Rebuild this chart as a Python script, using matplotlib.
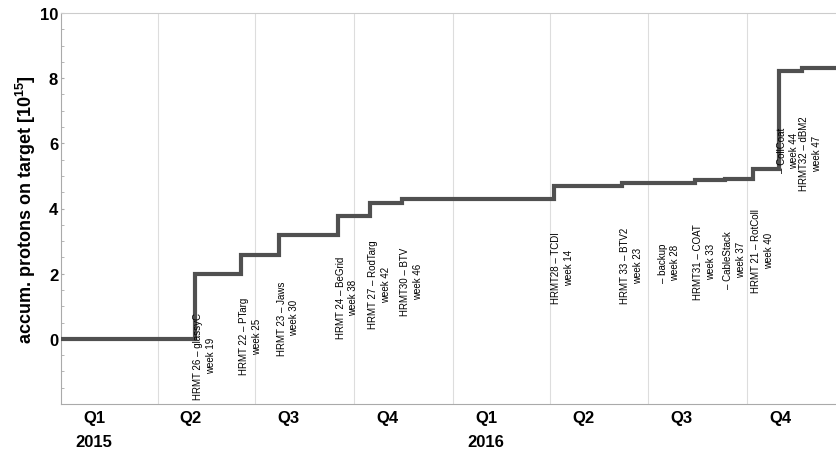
import numpy as np
import matplotlib
matplotlib.use("Agg")
import matplotlib.pyplot as plt
import matplotlib.dates as mdates
import matplotlib.transforms as mtransforms

plt.rcParams['font.family'] = ['Liberation Sans', 'DejaVu Sans']
plt.rcParams['mathtext.fontset'] = 'custom'
plt.rcParams['mathtext.rm'] = 'Liberation Sans'
plt.rcParams['mathtext.bf'] = 'Liberation Sans:bold'

# Accumulated protons on target: step dates and level after each step
step_dates = ["2015-01-01", "2015-05-06", "2015-06-18", "2015-07-23", "2015-09-16",
              "2015-10-16", "2015-11-15", "2016-04-04", "2016-06-07", "2016-08-14",
              "2016-09-11", "2016-10-07", "2016-10-31", "2016-11-21", "2016-12-31"]
pot_levels = [0.0, 2.0, 2.58, 3.18, 3.78, 4.18, 4.28, 4.68, 4.78, 4.86,
              4.90, 5.20, 8.22, 8.32, 8.32]

# Experiment annotations
exp_names = ["HRMT 26 – glassyC", "HRMT 22 – PTarg", "HRMT 23 – Jaws", "HRMT 24 – BeGrid",
             "HRMT 27 – RodTarg", "HRMT30 – BTV", "HRMT28 – TCDI", "HRMT 33 – BTV2",
             "– backup", "HRMT31 – COAT", "– CableStack", "HRMT 21 – RotColl",
             "– CollCoat", "HRMT32 – dBM2"]
exp_weeks = [19, 25, 30, 38, 42, 46, 14, 23, 28, 33, 37, 40, 44, 47]
exp_dates = ["2015-05-06", "2015-06-18", "2015-07-23", "2015-09-16", "2015-10-16",
             "2015-11-15", "2016-04-04", "2016-06-07", "2016-07-12", "2016-08-14",
             "2016-09-11", "2016-10-07", "2016-10-31", "2016-11-21"]
exp_label_y = [-0.5, 0.1, 0.66, 1.3, 1.68, 1.79, 2.2, 2.27, 2.35, 2.4, 2.45, 2.72, 5.8, 5.7]

quarter_starts = ["2015-04-01", "2015-07-01", "2015-10-01", "2016-01-01",
                  "2016-04-01", "2016-07-01", "2016-10-01"]
quarter_label_dates = ["2015-02-01", "2015-05-02", "2015-08-01", "2015-11-01",
                       "2016-02-01", "2016-05-02", "2016-08-01", "2016-11-01"]
quarter_labels = ["Q1", "Q2", "Q3", "Q4", "Q1", "Q2", "Q3", "Q4"]
year_label_dates = ["2015-02-01", "2016-02-01"]
year_labels = ["2015", "2016"]


def to_num(dates):
    return mdates.datestr2num(dates)


fig = plt.figure(figsize=(8.37, 4.52), dpi=100)
ax = fig.add_axes([61 / 837, 1 - 405 / 452, 1 - 61 / 837, (405 - 14) / 452])

x0 = to_num("2015-01-01")
x1 = to_num("2016-12-24")
ax.set_xlim(x0, x1)
ax.set_ylim(-2, 10)

for q in to_num(quarter_starts):
    ax.axvline(q, color="#dddddd", lw=0.8, zorder=0)

ax.step(to_num(step_dates), pot_levels, where="post", color="#505050", lw=3,
        solid_joinstyle="miter", zorder=3)

for name, wk, d, ly in zip(exp_names, exp_weeks, exp_dates, exp_label_y):
    ax.annotate(f"{name}\nweek {wk}", xy=(to_num(d), ly), xytext=(6.5, 0),
                textcoords="offset points", rotation=90, ha="center", va="center",
                multialignment="center", fontsize=7, linespacing=1.35,
                color="black", zorder=4)

ax.set_yticks([0, 2, 4, 6, 8, 10])
ax.set_yticks(np.arange(-2, 10.01, 0.5), minor=True)
ax.tick_params(axis="y", which="both", direction="in", length=2.5, color="#aaaaaa",
               labelsize=12, pad=2)
for lab in ax.get_yticklabels():
    lab.set_fontweight("bold")

ax.set_xticks(to_num(quarter_label_dates))
ax.set_xticklabels(quarter_labels, fontsize=12, fontweight="bold")
ax.tick_params(axis="x", length=0, pad=4)

trans = mtransforms.blended_transform_factory(ax.transData, ax.transAxes)
for d, yl in zip(to_num(year_label_dates), year_labels):
    ax.text(d, -0.095, yl, transform=trans, ha="center", va="center",
            fontsize=12, fontweight="bold")

ax.set_ylabel(r"accum. protons on target [10$^{\mathbf{15}}$]", fontsize=13,
              fontweight="bold", labelpad=1)

for side in ["left", "bottom"]:
    ax.spines[side].set_color("#aaaaaa")
ax.spines["top"].set_color("#cccccc")
ax.spines["right"].set_visible(False)

fig.savefig("out.png", dpi=100)
